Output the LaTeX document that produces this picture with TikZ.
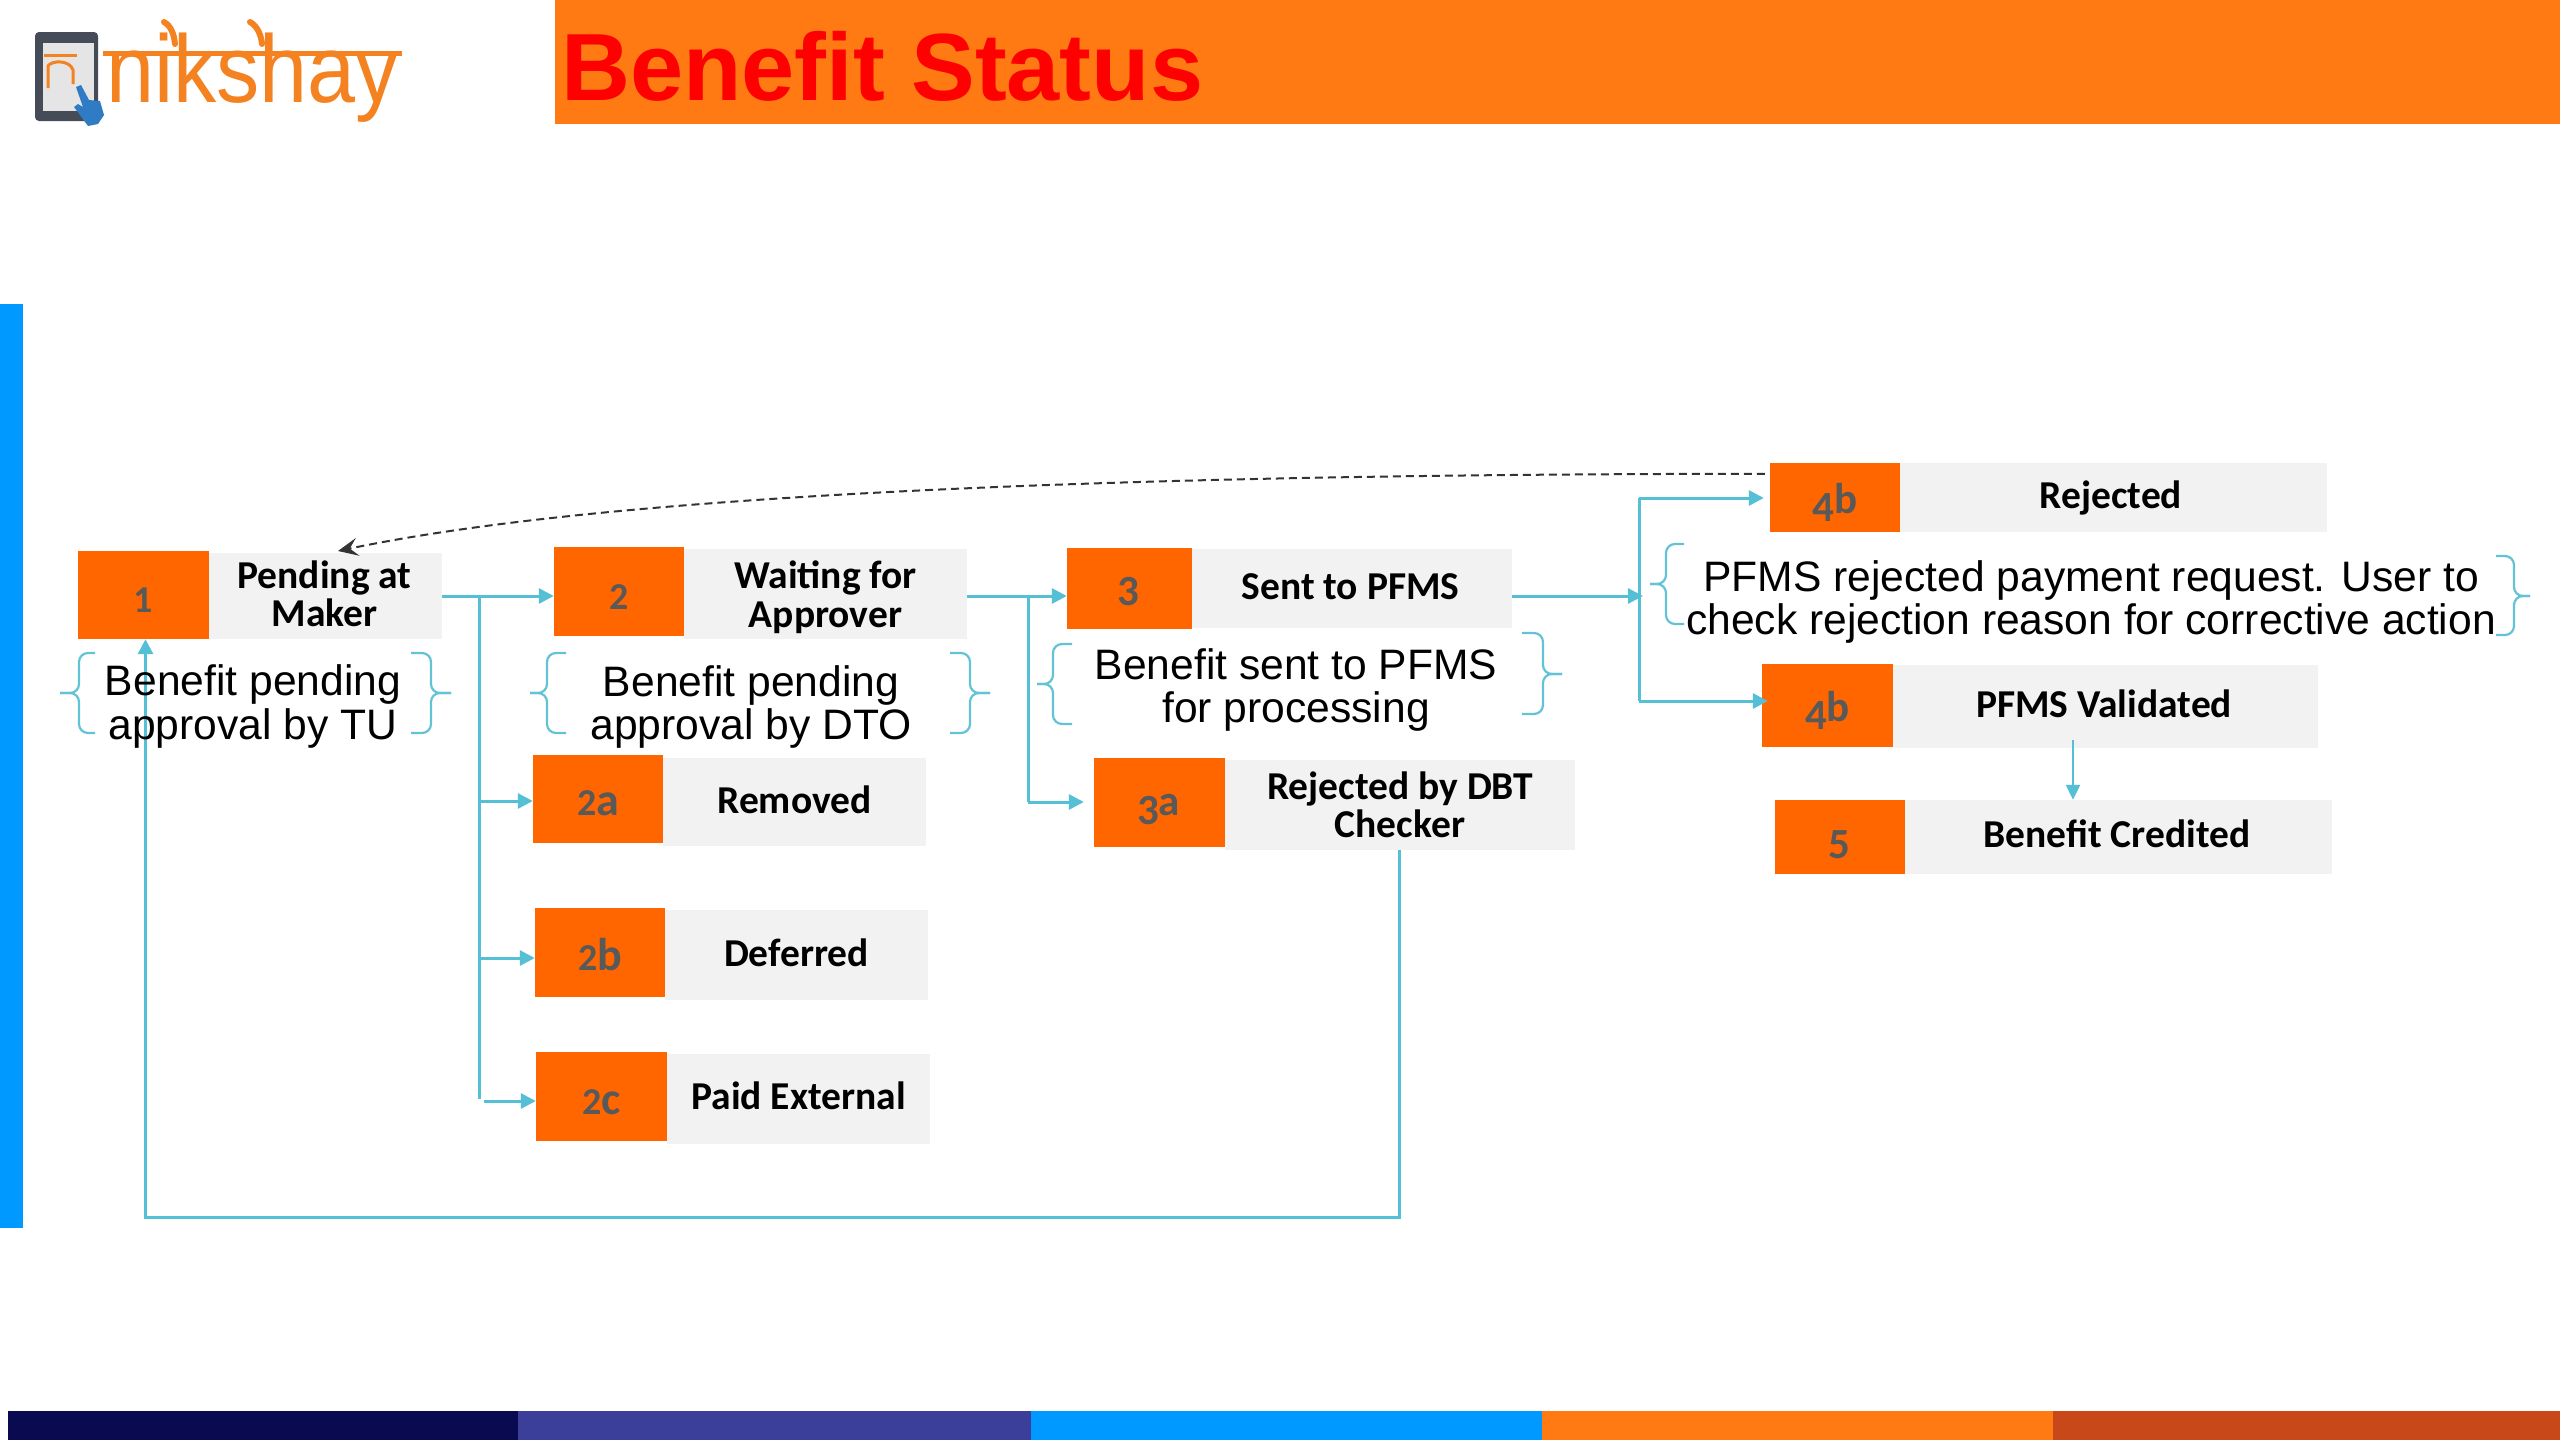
\documentclass[tikz,border=0pt]{standalone}
\usepackage{fontspec}
\usetikzlibrary{arrows.meta,calc}
\setmainfont{Liberation Sans}
\newfontfamily\lblfont{Carlito}
\definecolor{bandorange}{HTML}{FF7A12}
\definecolor{boxorange}{HTML}{FF6600}
\definecolor{boxgray}{HTML}{F2F2F2}
\definecolor{numgray}{HTML}{595959}
\definecolor{conn}{HTML}{55BFD6}
\definecolor{bracecol}{HTML}{62C2D6}
\definecolor{barblue}{HTML}{0099FF}
\definecolor{navy}{HTML}{0A0A50}
\definecolor{indigo}{HTML}{3B3F9A}
\definecolor{rust}{HTML}{C8481A}
\definecolor{logoorange}{HTML}{F58220}
\definecolor{handblue}{HTML}{2F7CC4}
\definecolor{tabletgray}{HTML}{454B57}
\tikzset{
  numbox/.style={fill=boxorange,inner sep=0pt},
  lblbox/.style={fill=boxgray,inner sep=0pt},
  numbold/.style={inner sep=0pt,text=numgray,font=\lblfont\bfseries\fontsize{46}{46}\selectfont},
  numreg/.style={inner sep=0pt,text=numgray,font=\lblfont\bfseries\fontsize{43}{43}\selectfont},
  lbltext/.style={inner sep=0pt,align=center,text=black,font=\lblfont\bfseries\fontsize{39.5}{38.5}\selectfont},
  desc/.style={inner sep=0pt,align=center,text=black,font=\fontsize{42.6}{43.5}\selectfont},
  link/.style={draw=conn,line width=3pt,-{Triangle[length=15pt,width=15pt]}},
  plainlink/.style={draw=conn,line width=3pt},
  thinlink/.style={draw=conn,line width=2.2pt,-{Triangle[length=15pt,width=14pt]}},
  bracelin/.style={draw=bracecol,line width=2.2pt,rounded corners=9pt},
  backlink/.style={draw=black!80,line width=2pt,dash pattern=on 8pt off 5pt,-{Stealth[length=20pt,width=18pt,inset=8pt]}}
}
\newcommand{\bracket}[6]{% vertical x, tip x, hook x, top, mid, bottom
  \draw[bracelin] (#3,#4) -- (#1,#4) -- (#1,#5) -- (#2,#5);
  \draw[bracelin] (#3,#6) -- (#1,#6) -- (#1,#5) -- (#2,#5);
}
\newcommand{\lowdigit}[2]{\raisebox{-#1pt}{#2}}
\newcommand{\smalldigit}[1]{{\fontsize{38}{38}\selectfont #1}}
\begin{document}
\begin{tikzpicture}[x=1pt,y=-1pt]
\useasboundingbox (0,0) rectangle (2560,1440);
\fill[white] (0,0) rectangle (2560,1440);
% header
\fill[bandorange] (555,0) rectangle (2560,124);
\node[anchor=base west,inner sep=0pt,text=red,font=\bfseries\fontsize{95.5}{96}\selectfont] (title) at (561,100) {Benefit Status};
% logo
\fill[rounded corners=4pt,fill=tabletgray] (35,32) rectangle (98,121);
\fill[black!10] (43,43) rectangle (94,111);
\fill[logoorange] (44,53.5) rectangle (77,57);
\draw[logoorange,line width=3pt] (48,88) -- (48,66) .. controls (52,60) and (70,60) .. (73,70) -- (73,84);
\fill[handblue] (76,87) -- (81,85) -- (89,100) -- (100,101) -- (104,115) -- (98,124) -- (88,126) -- (74,107) -- (78,104) -- (83,107) -- cycle;
\node[anchor=base west,inner sep=0pt,text=logoorange,xscale=0.9,font=\fontsize{96}{96}\selectfont] (logotext) at (106,102) {nikshay};
\fill[logoorange] (103,51) rectangle (402,55.5);
\draw[logoorange,line width=6pt,line cap=round] (164,22) .. controls (171,26) and (174,34) .. (175,44);
\draw[logoorange,line width=6pt,line cap=round] (250,22) .. controls (257,26) and (261,34) .. (262,44);
% side and bottom bars
\fill[barblue] (0,304) rectangle (23,1228);
\fill[navy] (8,1411) rectangle (518,1440);
\fill[indigo] (518,1411) rectangle (1031,1440);
\fill[barblue] (1031,1411) rectangle (1542,1440);
\fill[bandorange] (1542,1411) rectangle (2053,1440);
\fill[rust] (2053,1411) rectangle (2560,1440);
% gray boxes
\node[lblbox,minimum width=233pt,minimum height=86pt,label={[name=tg1,lbltext,yshift=2pt,xshift=-1pt]center:{Pending at\\Maker}}] (g1) at (325.5,596) {};
\node[lblbox,minimum width=283pt,minimum height=90pt,label={[name=tg2,lbltext,yshift=-3pt]center:{Waiting for\\Approver}}] (g2) at (825.5,594) {};
\node[lblbox,minimum width=320pt,minimum height=79pt,label={[name=tg3,lbltext,yshift=1.5pt,xshift=-1.5pt]center:Sent to PFMS}] (g3) at (1352,588.5) {};
\node[lblbox,minimum width=350pt,minimum height=90pt,label={[name=tg3a,lbltext]center:{Rejected by DBT\\Checker}}] (g3a) at (1400,805) {};
\node[lblbox,minimum width=427pt,minimum height=69pt,label={[name=tg4a,lbltext,xshift=-2.5pt]center:Rejected}] (g4a) at (2113.5,497.5) {};
\node[lblbox,minimum width=425pt,minimum height=83pt,label={[name=tg4b,lbltext,yshift=3pt,xshift=-1.5pt]center:PFMS Validated}] (g4b) at (2105.5,706.5) {};
\node[lblbox,minimum width=427pt,minimum height=74pt,label={[name=tg5,lbltext,yshift=3pt,xshift=-1.5pt]center:Benefit Credited}] (g5) at (2118.5,837) {};
\node[lblbox,minimum width=263pt,minimum height=88pt,label={[name=tg2a,lbltext,yshift=2.5pt]center:Removed}] (g2a) at (794.5,802) {};
\node[lblbox,minimum width=263pt,minimum height=90pt,label={[name=tg2b,lbltext,yshift=2.5pt]center:Deferred}] (g2b) at (796.5,955) {};
\node[lblbox,minimum width=263pt,minimum height=90pt,label={[name=tg2c,lbltext,yshift=3pt]center:Paid External}] (g2c) at (798.5,1099) {};
% orange boxes
\node[numbox,minimum width=131pt,minimum height=88pt,label={[name=tn1,numbold,yshift=-5pt]center:\smalldigit{1}}] (n1) at (143.5,595) {};
\node[numbox,minimum width=130pt,minimum height=89pt,label={[name=tn2,numbold,yshift=-5.5pt]center:\smalldigit{2}}] (n2) at (619,591.5) {};
\node[numbox,minimum width=125pt,minimum height=81pt,label={[name=tn3,numreg,yshift=-3.5pt,xshift=-1pt]center:3}] (n3) at (1129.5,588.5) {};
\node[numbox,minimum width=131pt,minimum height=89pt,label={[name=tn3a,numreg,yshift=-7pt,xshift=-1pt]center:\lowdigit{9}{3}a}] (n3a) at (1159.5,802.5) {};
\node[numbox,minimum width=130pt,minimum height=69pt,label={[name=tn4a,numreg,yshift=-4.5pt]center:\lowdigit{8}{4}b}] (n4a) at (1835,497.5) {};
\node[numbox,minimum width=131pt,minimum height=83pt,label={[name=tn4b,numreg,yshift=-4.5pt]center:\lowdigit{8}{4}b}] (n4b) at (1827.5,705.5) {};
\node[numbox,minimum width=130pt,minimum height=74pt,label={[name=tn5,numreg,yshift=-8pt,xshift=-1pt]center:5}] (n5) at (1840,837) {};
\node[numbox,minimum width=130pt,minimum height=88pt,label={[name=tn2a,numbold,yshift=-4pt]center:\smalldigit{2}a}] (n2a) at (598,799) {};
\node[numbox,minimum width=130pt,minimum height=89pt,label={[name=tn2b,numbold,yshift=-2.5pt]center:\smalldigit{2}b}] (n2b) at (600,952.5) {};
\node[numbox,minimum width=131pt,minimum height=89pt,label={[name=tn2c,numbold,yshift=-5.5pt]center:\smalldigit{2}c}] (n2c) at (601.5,1096.5) {};
% brackets
\bracket{79}{60}{95}{653}{693}{733}
\bracket{431}{451}{411}{653}{693}{733}
\bracket{547}{530}{566}{653}{693}{733}
\bracket{970}{990}{950}{653}{693}{733}
\bracket{1053}{1037}{1072}{644}{684}{724}
\bracket{1543}{1562}{1522}{633}{674}{714}
\bracket{1666}{1650}{1684}{544}{584}{624}
\bracket{2514}{2530}{2496}{556}{596}{635}
% connectors
\coordinate (j1) at (479,596);
\coordinate (j2) at (1028,596);
\coordinate (j3) at (1639,596);
\coordinate (a2) at (479,801);
\coordinate (b2) at (479,958);
\coordinate (c2) at (479,1099);
\coordinate (c2s) at (484,1101);
\coordinate (a3) at (1028,802);
\coordinate (t4) at (1639,498);
\coordinate (b4) at (1639,701);
\coordinate (rb) at (1399,1217);
\coordinate (lb) at (145.5,1217);
\draw[link] (g1.east) -- (g1.east -| n2.west);
\draw[plainlink] (j1) -- (c2);
\draw[link] (a2) -- (a2 -| n2a.west);
\draw[link] (b2) -- (b2 -| n2b.west);
\draw[link] (c2s) -- (c2s -| n2c.west);
\draw[link] (j1 -| g2.east) -- (j1 -| n3.west);
\draw[plainlink] (j2) -- (a3);
\draw[link] (a3) -- ([xshift=-10pt]a3 -| n3a.west);
\draw[link] (j1 -| g3.east) -- ([xshift=4pt]j3);
\draw[plainlink] (t4) -- (b4);
\draw[link] (t4) -- ([xshift=-6pt]t4 -| n4a.west);
\draw[link] (b4) -- ([xshift=6pt]b4 -| n4b.west);
\draw[thinlink] (2073,740) coordinate (v1) -- (v1 |- g5.north);
\draw[link] (rb |- g3a.south) -- (rb) -- (lb) -- (lb |- n1.south);
\draw[backlink] ([xshift=-5pt,yshift=-11pt]n4a.north west) .. controls (1150,474) and (620,492) .. (338,551);
% description text
\node[desc] (d1) at (253,706.5) {Benefit pending\\approval by TU};
\node[desc] (d2) at (751,707) {Benefit pending\\approval by DTO};
\node[desc] (d3) at (1296,690) {Benefit sent to PFMS\\for processing};
\node[desc] (d4) at (2091,602) {PFMS rejected payment request. User to\\check rejection reason for corrective action};
\end{tikzpicture}
\end{document}
